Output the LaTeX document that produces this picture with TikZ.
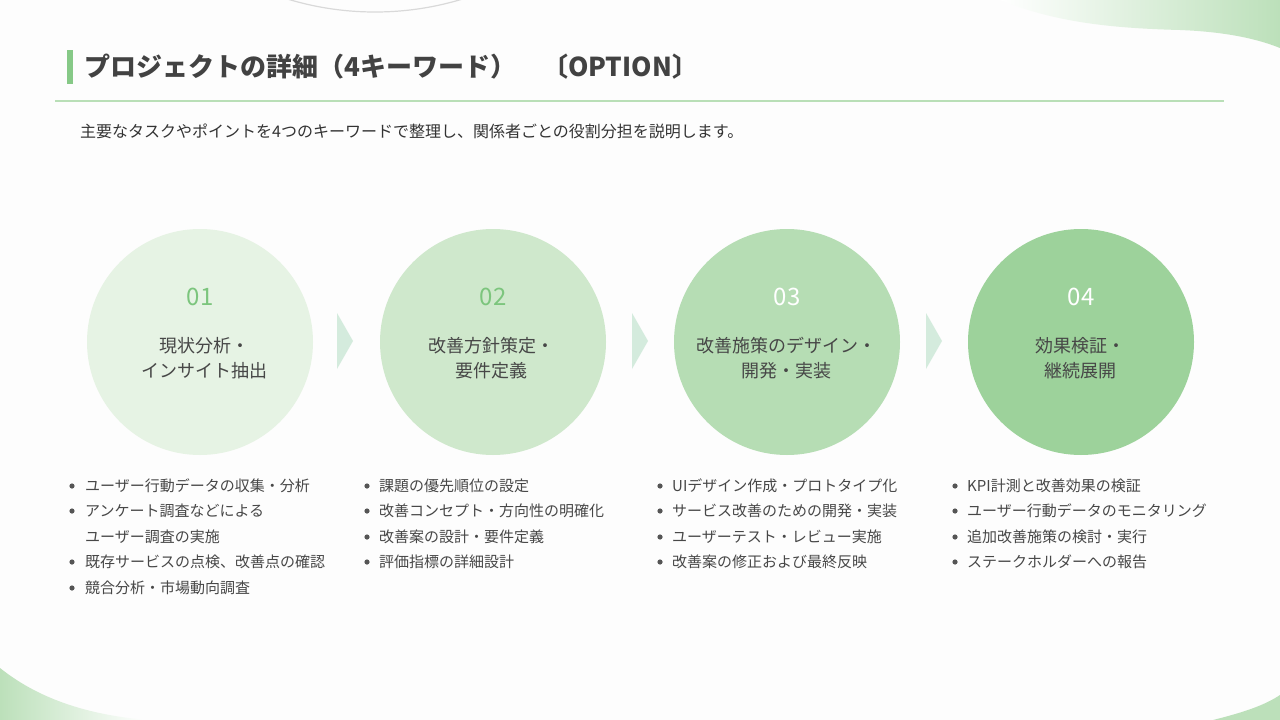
\documentclass[tikz,border=0pt]{standalone}
\usepackage{fontspec}
\setmainfont{Noto Sans CJK JP}
\usepackage{tikz}
\usetikzlibrary{shapes.geometric}

\definecolor{pageWhite}{HTML}{FDFDFD}
\definecolor{blobGreen}{HTML}{BCE0BA}
\definecolor{barGreen}{HTML}{86C987}
\definecolor{ruleGreen}{HTML}{B9DFB7}
\definecolor{titleGray}{HTML}{424242}
\definecolor{textGray}{HTML}{333333}
\definecolor{itemGray}{HTML}{474747}
\definecolor{dotGray}{HTML}{555555}
\definecolor{phaseA}{HTML}{E6F3E4}
\definecolor{phaseB}{HTML}{CFE8CC}
\definecolor{phaseC}{HTML}{B6DDB4}
\definecolor{phaseD}{HTML}{9DD29B}
\definecolor{numGreen}{HTML}{7CC57D}
\definecolor{chevGreen}{HTML}{D4EBDD}

\begin{document}
\begin{tikzpicture}[x=1pt,y=-1pt,
    title/.style={anchor=west,inner sep=0pt,text=titleGray,font=\fontsize{26}{30}\selectfont\bfseries},
    phase/.style={circle,minimum size=226pt,inner sep=0pt},
    num/.style={inner sep=0pt,font=\fontsize{24}{28}\selectfont},
    phaselabel/.style={align=center,inner sep=0pt,text=itemGray,font=\fontsize{18}{25}\selectfont},
    item/.style={anchor=west,inner sep=0pt,text=itemGray,font=\fontsize{15}{18}\selectfont}]
\useasboundingbox (0,0) rectangle (1280,720);
\fill[pageWhite] (0,0) rectangle (1280,720);

% background corners
\shade[left color=white,right color=blobGreen] (1000,0) .. controls (1050,20) and (1100,28) .. (1180,30)
    .. controls (1230,32) and (1260,40) .. (1280,48) -- (1280,0) -- cycle;
\shade[left color=blobGreen,right color=white] (0,668) .. controls (40,700) and (90,715) .. (147,720) -- (0,720) -- cycle;
\fill[blobGreen] (1213,720) .. controls (1245,712) and (1265,705) .. (1280,695) -- (1280,720) -- cycle;
\begin{scope}
    \clip (0,0) rectangle (1280,720);
    \draw[gray!30,line width=1.2pt] (375,-288) circle (300);
\end{scope}

% heading
\fill[barGreen] (67,50) rectangle (73,84);
\node[title] (T) at (84,67) {プロジェクトの詳細（4キーワード）\hspace{1em}〔OPTION〕};
\draw[ruleGreen,line width=1.6pt] (55,101) -- (1224,101);
\node[anchor=west,inner sep=0pt,text=textGray,font=\fontsize{16}{18}\selectfont] (S) at (80,131)
    {主要なタスクやポイントを4つのキーワードで整理し、関係者ごとの役割分担を説明します。};

\begin{scope}
    \node[phase,fill=phaseA] (P1) at (200,342) {};
    \node[phase,fill=phaseB] (P2) at (493,342) {};
    \node[phase,fill=phaseC] (P3) at (787,342) {};
    \node[phase,fill=phaseD] (P4) at (1081,342) {};

    \node[num,text=numGreen] (N1) at (200,297) {01};
    \node[num,text=numGreen] (N2) at (493,297) {02};
    \node[num,text=white] (N3) at (787,297) {03};
    \node[num,text=white] (N4) at (1081,297) {04};

    \node[phaselabel] (L1) at (204,358) {現状分析・\\インサイト抽出};
    \node[phaselabel] (L2) at (491,358) {改善方針策定・\\要件定義};
    \node[phaselabel] (L3) at (786,358) {改善施策のデザイン・\\開発・実装};
    \node[phaselabel] (L4) at (1080,358) {効果検証・\\継続展開};
\end{scope}

\fill[chevGreen] (337,313) -- (353,341) -- (337,369) -- cycle;
\fill[chevGreen] (632,313) -- (648,341) -- (632,369) -- cycle;
\fill[chevGreen] (926,313) -- (942,341) -- (926,369) -- cycle;

\begin{scope}
    \node[item] (I11) at (85,486) {ユーザー行動データの収集・分析};
    \node[item] (I12) at (85,511) {アンケート調査などによる};
    \node[item] (I13) at (85,537) {ユーザー調査の実施};
    \node[item] (I14) at (85,562) {既存サービスの点検、改善点の確認};
    \node[item] (I15) at (85,588) {競合分析・市場動向調査};

    \node[item] (I21) at (379,486) {課題の優先順位の設定};
    \node[item] (I22) at (379,511) {改善コンセプト・方向性の明確化};
    \node[item] (I23) at (379,537) {改善案の設計・要件定義};
    \node[item] (I24) at (379,562) {評価指標の詳細設計};

    \node[item] (I31) at (672,486) {UIデザイン作成・プロトタイプ化};
    \node[item] (I32) at (672,511) {サービス改善のための開発・実装};
    \node[item] (I33) at (672,537) {ユーザーテスト・レビュー実施};
    \node[item] (I34) at (672,562) {改善案の修正および最終反映};

    \node[item] (I41) at (967,486) {KPI計測と改善効果の検証};
    \node[item] (I42) at (967,511) {ユーザー行動データのモニタリング};
    \node[item] (I43) at (967,537) {追加改善施策の検討・実行};
    \node[item] (I44) at (967,562) {ステークホルダーへの報告};
\end{scope}

\begin{scope}[dotGray]
    \fill (72,486) circle (2.6);
    \fill (72,511) circle (2.6);
    \fill (72,562) circle (2.6);
    \fill (72,588) circle (2.6);
    \fill (367,486) circle (2.6);
    \fill (367,511) circle (2.6);
    \fill (367,537) circle (2.6);
    \fill (367,562) circle (2.6);
    \fill (660,486) circle (2.6);
    \fill (660,511) circle (2.6);
    \fill (660,537) circle (2.6);
    \fill (660,562) circle (2.6);
    \fill (955,486) circle (2.6);
    \fill (955,511) circle (2.6);
    \fill (955,537) circle (2.6);
    \fill (955,562) circle (2.6);
\end{scope}
\end{tikzpicture}
\end{document}
